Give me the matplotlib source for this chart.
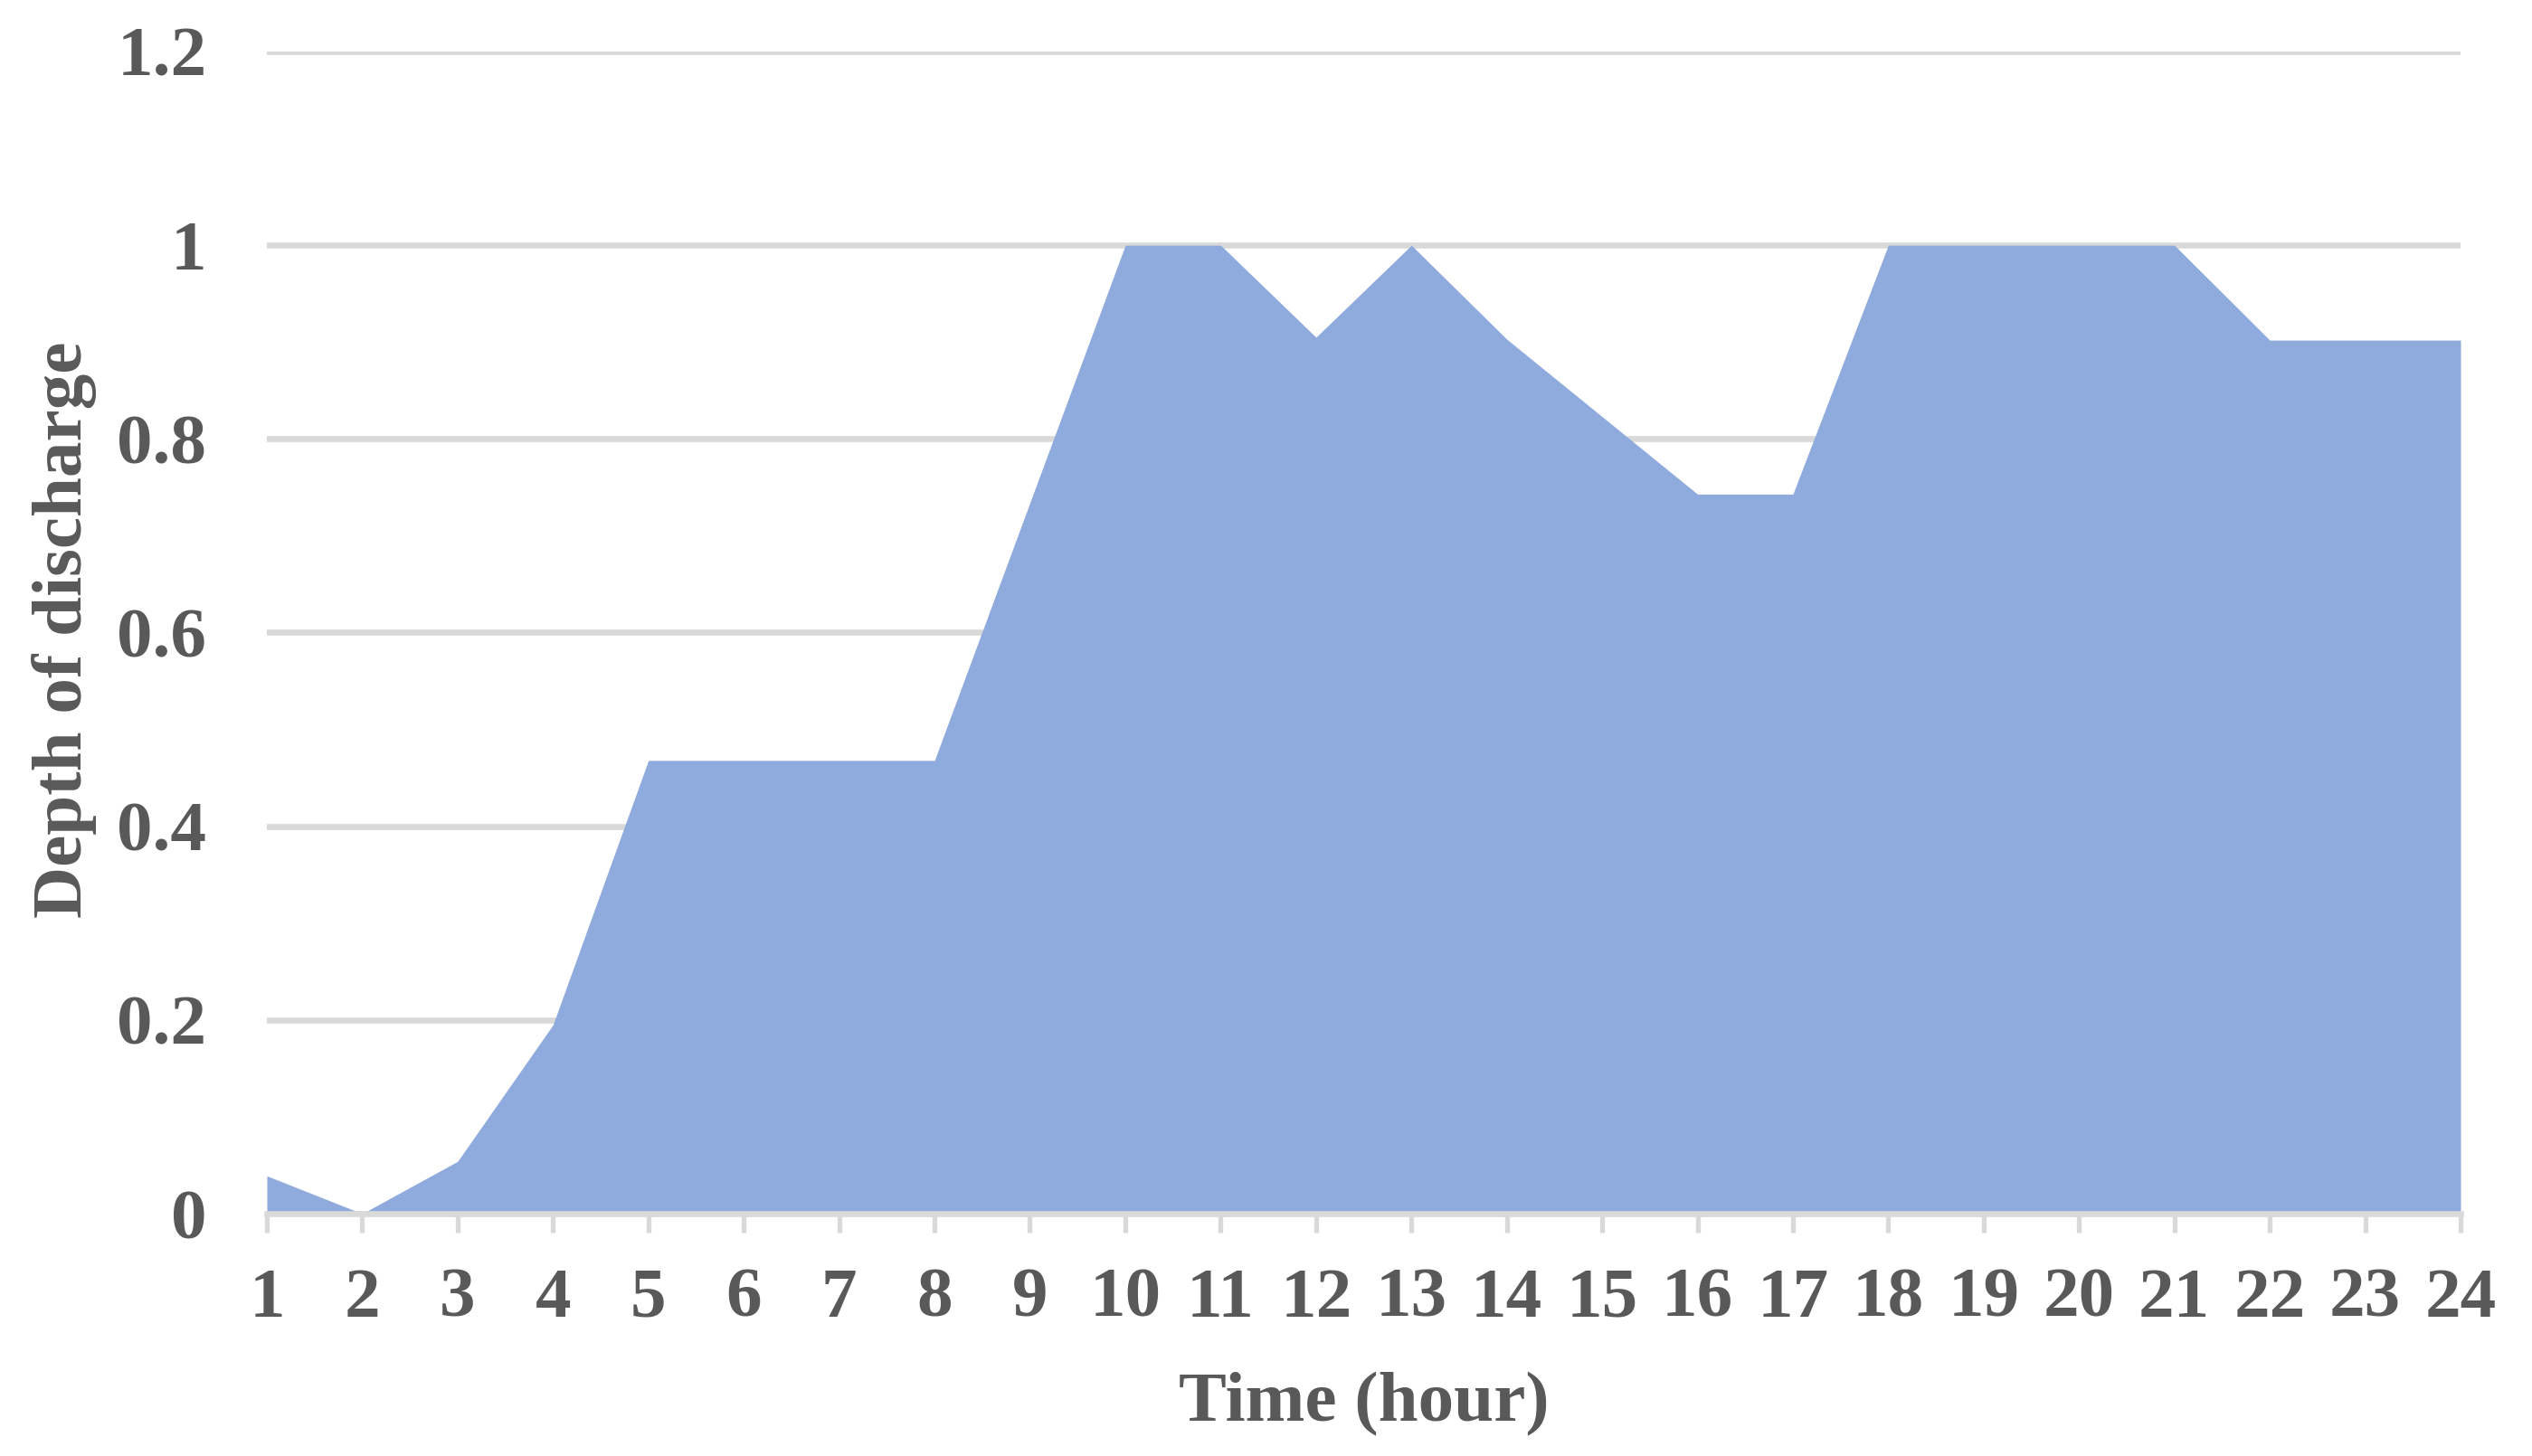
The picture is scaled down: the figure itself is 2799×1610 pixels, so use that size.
import matplotlib
matplotlib.use("Agg")
import matplotlib.pyplot as plt

hours = list(range(1, 25))
depth = [0.039, 0.0, 0.054, 0.195, 0.468, 0.468, 0.468, 0.468, 0.734, 1.0,
         1.0, 0.905, 1.0, 0.903, 0.823, 0.743, 0.743, 1.0, 1.0, 1.0,
         1.0, 0.902, 0.902, 0.902]
y_ticks = [0, 0.2, 0.4, 0.6, 0.8, 1.0, 1.2]
y_tick_labels = ["0", "0.2", "0.4", "0.6", "0.8", "1", "1.2"]
x_label = "Time (hour)"
y_label = "Depth of discharge"

W, H = 2799, 1610
fig = plt.figure(figsize=(W / 100, H / 100), dpi=100)
left, right, top, bottom = 295, 2720, 57, 1342
ax = fig.add_axes([left / W, 1 - bottom / H, (right - left) / W, (bottom - top) / H])

font = dict(family=["Liberation Serif", "DejaVu Serif"], weight="bold", color="#595959")
fs = 57

ax.fill_between(hours, depth, 0, color="#8FAADC", linewidth=0, zorder=2)
ax.set_xlim(1, 24)
ax.set_ylim(0, 1.2)
ax.set_axisbelow(True)
ax.yaxis.grid(True, color="#D9D9D9", linewidth=4.8)
ax.xaxis.grid(False)

for s in ["top", "right", "left"]:
    ax.spines[s].set_visible(False)
ax.spines["bottom"].set_color("#D9D9D9")
ax.spines["bottom"].set_linewidth(4.8)
ax.spines["bottom"].set_zorder(3)

ax.set_xticks(hours)
ax.set_xticklabels([str(h) for h in hours])
ax.set_yticks(y_ticks)
ax.set_yticklabels(y_tick_labels)
ax.tick_params(axis="x", length=15, width=3.8, color="#D9D9D9", pad=28)
ax.tick_params(axis="y", length=0, pad=48)
for lab in ax.get_xticklabels() + ax.get_yticklabels():
    lab.set_fontfamily(font["family"])
    lab.set_fontweight("bold")
    lab.set_color(font["color"])
    lab.set_fontsize(fs)

fig.text(1508 / W, 1 - 1553 / H, x_label, ha="center", va="center", fontsize=fs, **font)
fig.text(71 / W, 1 - 696 / H, y_label, ha="center", va="center", rotation=90, fontsize=fs, **font)

fig.savefig("out.png", dpi=100, facecolor="white")
